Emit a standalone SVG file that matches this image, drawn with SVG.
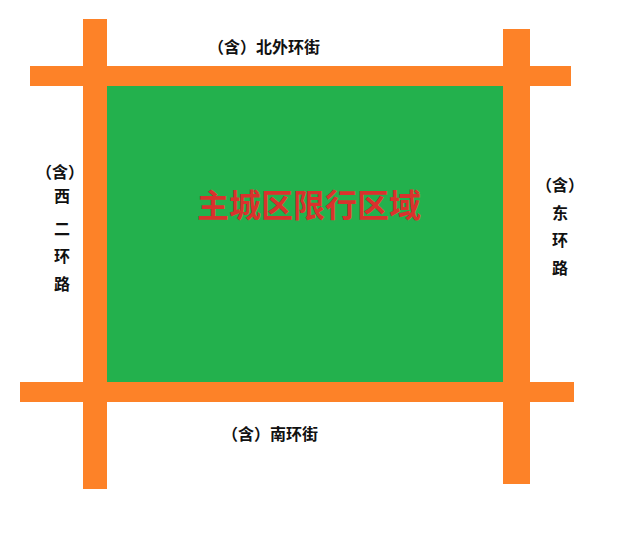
<svg xmlns="http://www.w3.org/2000/svg" width="640" height="548" viewBox="0 0 640 548">
<style>
.road{fill:#fd8228}
.lbl{font-family:"Noto Sans CJK SC","Liberation Sans",sans-serif;font-weight:bold;font-size:16px;fill:#111111;text-anchor:middle}
.title{font-family:"Noto Sans CJK SC","Liberation Sans",sans-serif;font-weight:bold;font-size:32px;fill:#d9322d;text-anchor:middle}
</style>
<rect width="640" height="548" fill="#ffffff"/>
<g id="zone">
<rect x="106" y="86" width="397" height="296" fill="#23b14d"/>
<text class="title" x="309" y="217">主城区限行区域</text>
</g>
<g id="roads">
<rect class="road" x="30" y="66" width="541" height="20"/>
<rect class="road" x="20" y="382" width="554" height="20"/>
<rect class="road" x="83" y="19" width="24" height="470"/>
<rect class="road" x="503" y="29" width="27" height="455"/>
</g>
<g id="north"><text class="lbl" x="264" y="53">（含）北外环街</text></g>
<g id="south"><text class="lbl" x="270" y="440">（含）南环街</text></g>
<g id="west">
<text class="lbl" x="60" y="178">（含）</text>
<text class="lbl" x="62" y="202">西</text>
<text class="lbl" x="62" y="235">二</text>
<text class="lbl" x="62" y="262">环</text>
<text class="lbl" x="62" y="290">路</text>
</g>
<g id="east">
<text class="lbl" x="560" y="191">（含）</text>
<text class="lbl" x="560" y="219">东</text>
<text class="lbl" x="560" y="246">环</text>
<text class="lbl" x="560" y="274">路</text>
</g>
</svg>
